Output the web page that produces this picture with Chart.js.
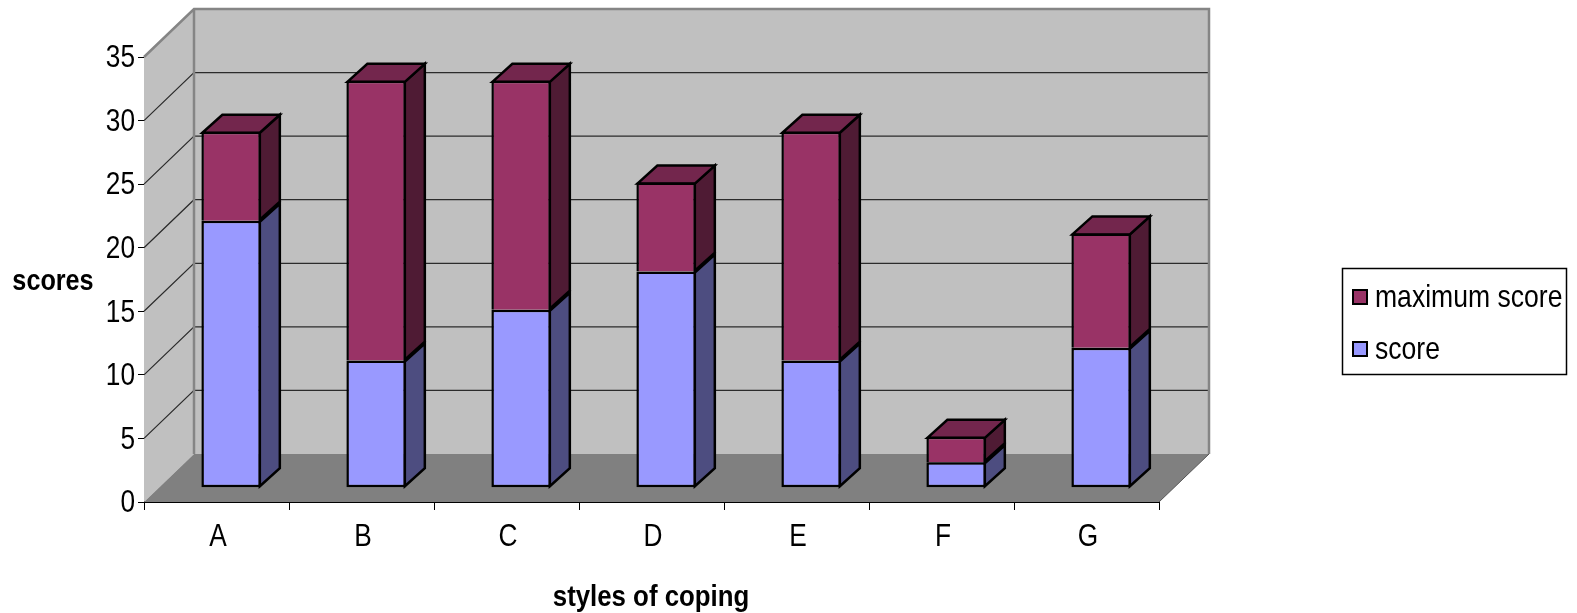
<!DOCTYPE html>
<html>
<head>
<meta charset="utf-8">
<style>html,body{margin:0;padding:0;background:#fff;overflow:hidden}canvas{display:block}</style>
<script src="https://cdn.jsdelivr.net/npm/chart.js@4"></script>
</head>
<body>
<canvas id="c" width="1577" height="613"></canvas>
<script>
const categories = ['A','B','C','D','E','F','G'];
const scoreValues = [21,10,14,17,10,2,11];
const maximumScoreValues = [7,22,18,7,18,2,9];
const yTicks = [0,5,10,15,20,25,30,35];
const seriesNames = ['score','maximum score'];
const yTitle = 'scores';
const xTitle = 'styles of coping';

const FONT = '"Liberation Sans",Arial,sans-serif';
const WALL = '#c0c0c0', FLOOR = '#808080', EDGE = '#858585';
const DX = 50, DY = 48;          // depth of the box
const GAPX = 14.6, GAPY = 14.3;  // bars stand this far behind the front plane
const BDX = 20, BDY = 18;        // depth of a bar
const SQUEEZE = 0.82;            // the reference type is condensed
const FACES = [
  {front:'#9999ff', side:'#4d4d80', top:'#4d4d80'},
  {front:'#993366', side:'#4f1b34', top:'#73264d'}
];

function poly(ctx, pts, fill, stroke, lw){
  ctx.beginPath();
  pts.forEach((p,i)=> i ? ctx.lineTo(p[0],p[1]) : ctx.moveTo(p[0],p[1]));
  ctx.closePath();
  if(fill){ctx.fillStyle=fill;ctx.fill();}
  if(stroke){ctx.strokeStyle=stroke;ctx.lineWidth=lw;ctx.lineJoin='miter';ctx.stroke();}
}
function narrowText(ctx, text, x, y, font, align, squeeze){
  ctx.save();
  ctx.translate(x,y);
  ctx.scale(squeeze||SQUEEZE,1);
  ctx.font=font;
  ctx.textAlign=align;
  ctx.textBaseline='middle';
  ctx.fillStyle='#000';
  ctx.fillText(text,0,0);
  ctx.restore();
}

const box3d = {
  id:'box3d',
  beforeDatasetsDraw(chart){
    const {ctx, chartArea:a, scales:{y}} = chart;
    const L=a.left, R=a.right, T=a.top, B=a.bottom;
    ctx.save();
    poly(ctx,[[L,B],[L,T],[L+DX,T-DY],[L+DX,B-DY]],WALL);
    poly(ctx,[[L+DX,T-DY],[R+DX,T-DY],[R+DX,B-DY],[L+DX,B-DY]],WALL);
    poly(ctx,[[L,B],[L+DX,B-DY],[R+DX,B-DY],[R,B]],FLOOR);
    yTicks.forEach(v=>{
      if(v===0||v===35) return;
      const py=y.getPixelForValue(v);
      ctx.beginPath();
      ctx.moveTo(L,py);ctx.lineTo(L+DX,py-DY);ctx.lineTo(R+DX,py-DY);
      ctx.strokeStyle='#2b2b2b';ctx.lineWidth=1.2;ctx.stroke();
    });
    ctx.strokeStyle=EDGE;ctx.lineWidth=2.5;
    ctx.beginPath();
    ctx.moveTo(L,T);ctx.lineTo(L+DX,T-DY);ctx.lineTo(R+DX,T-DY);ctx.lineTo(R+DX,B-DY);
    ctx.moveTo(L+DX,T-DY);ctx.lineTo(L+DX,B-DY);
    ctx.stroke();
    ctx.strokeStyle='#555';ctx.lineWidth=1;
    ctx.beginPath();ctx.moveTo(R,B);ctx.lineTo(R+DX,B-DY);ctx.stroke();
    ctx.translate(GAPX,-GAPY);
    chart.getSortedVisibleDatasetMetas().slice().sort((m,n)=>m.index-n.index).forEach(meta=>{
      const f=FACES[meta.index];
      meta.data.forEach(bar=>{
        const r=bar.x+bar.width/2-1, l=bar.x-bar.width/2+1, t=bar.y+1, b=bar.base-1;
        poly(ctx,[[r,b],[r+BDX,b-BDY],[r+BDX,t-BDY],[r,t]],f.side,'#000',2.5);
        if(meta.index===FACES.length-1){
          poly(ctx,[[l,t],[l+BDX,t-BDY],[r+BDX,t-BDY],[r,t]],f.top,'#000',2.5);
        }
      });
    });
  },
  afterDatasetsDraw(chart){ chart.ctx.restore(); },
  afterDraw(chart){
    const {ctx, scales:{x,y}} = chart;
    ctx.save();
    const tickFont='32px '+FONT;
    categories.forEach((c,i)=>narrowText(ctx,c,x.getPixelForTick(i)+1.5,537,tickFont,'center'));
    yTicks.forEach(v=>narrowText(ctx,String(v),135,y.getPixelForValue(v)+1.5,tickFont,'right'));
    narrowText(ctx,yTitle,53,282,'bold 30px '+FONT,'center',0.84);
    narrowText(ctx,xTitle,651,598,'bold 30px '+FONT,'center',0.86);
    ctx.strokeStyle='#000';ctx.lineWidth=1.5;
    ctx.fillStyle='#fff';
    ctx.fillRect(1342.5,268.5,224,106);
    ctx.strokeRect(1342.5,268.5,224,106);
    const rows=[[1,297],[0,349]];
    rows.forEach(([idx,cy])=>{
      ctx.fillStyle=FACES[idx].front;
      ctx.fillRect(1353,cy-7,14,14);
      ctx.lineWidth=2;ctx.strokeStyle='#000';
      ctx.strokeRect(1353,cy-7,14,14);
      narrowText(ctx,chart.data.datasets[idx].label,1375,cy+1,'32px '+FONT,'left',0.83);
    });
    ctx.restore();
  }
};

new Chart(document.getElementById('c').getContext('2d'),{
  type:'bar',
  data:{
    labels:categories,
    datasets:[
      {label:seriesNames[0],data:scoreValues,backgroundColor:FACES[0].front,borderColor:'#000',borderWidth:2.5,borderSkipped:false,clip:false},
      {label:seriesNames[1],data:maximumScoreValues,backgroundColor:FACES[1].front,borderColor:'#000',borderWidth:2.5,borderSkipped:'bottom',clip:false}
    ]
  },
  options:{
    responsive:false,
    animation:false,
    events:[],
    layout:{padding:{left:0,top:57,right:418,bottom:0}},
    datasets:{bar:{categoryPercentage:1,barPercentage:0.41}},
    plugins:{legend:{display:false},title:{display:false},tooltip:{enabled:false}},
    scales:{
      x:{
        stacked:true,
        afterFit(s){s.height=111;},
        grid:{offset:true,drawOnChartArea:false,drawTicks:true,tickLength:8,tickColor:'#000',lineWidth:1},
        border:{display:true,color:'#000',width:1},
        ticks:{display:false,autoSkip:false}
      },
      y:{
        stacked:true,min:0,max:35,
        afterFit(s){s.width=144;},
        afterBuildTicks(s){s.ticks=yTicks.map(v=>({value:v}));},
        grid:{drawOnChartArea:false,drawTicks:true,tickLength:6,tickColor:'#000',lineWidth:1},
        border:{display:true,color:'#000',width:1},
        ticks:{display:false}
      }
    }
  },
  plugins:[box3d]
});
</script>
</body>
</html>
